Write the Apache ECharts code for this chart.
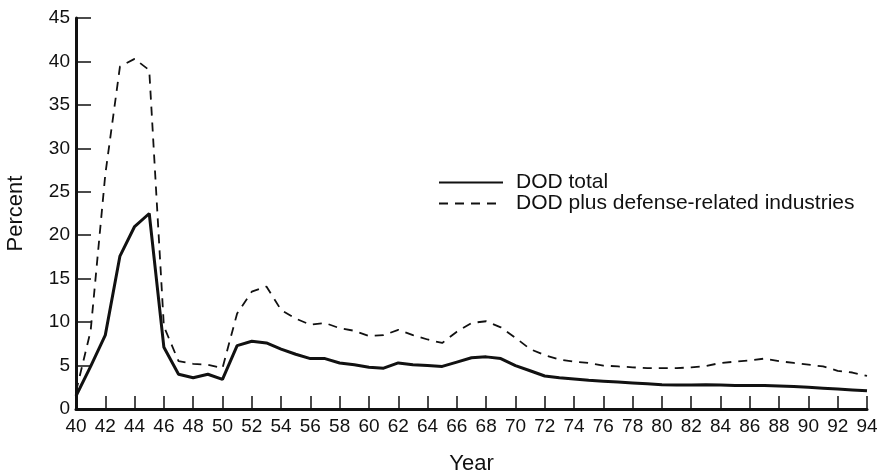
<!DOCTYPE html>
<html>
<head>
<meta charset="utf-8">
<script src="https://cdn.jsdelivr.net/npm/echarts@6/dist/echarts.min.js"></script>
<style>
  html, body { margin: 0; padding: 0; background: #fff; }
  #chart { width: 884px; height: 476px; }
</style>
</head>
<body>
<div id="chart"></div>
<script>
const years = [
  40, 41, 42, 43, 44, 45, 46, 47, 48, 49, 50, 51, 52, 53, 54, 55, 56, 57, 58, 59,
  60, 61, 62, 63, 64, 65, 66, 67, 68, 69, 70, 71, 72, 73, 74, 75, 76, 77, 78, 79,
  80, 81, 82, 83, 84, 85, 86, 87, 88, 89, 90, 91, 92, 93, 94
]

const dodTotal = [
  1.5, 4.9, 8.5, 17.6, 21.0, 22.5, 7.1, 4.0, 3.6, 4.0, 3.4, 7.3, 7.8, 7.6, 6.9, 6.3, 5.8, 5.8, 5.3, 5.1,
  4.8, 4.7, 5.3, 5.1, 5.0, 4.9, 5.4, 5.9, 6.0, 5.8, 5.0, 4.4, 3.8, 3.6, 3.45, 3.3, 3.2, 3.1, 3.0, 2.9,
  2.8, 2.75, 2.75, 2.8, 2.75, 2.7, 2.7, 2.7, 2.65, 2.6, 2.5, 2.4, 2.3, 2.2, 2.1
]

const dodPlus = [
  2.0, 9.0, 27.0, 39.4, 40.3, 39.0, 9.5, 5.5, 5.2, 5.1, 4.7, 11.0, 13.5, 14.1, 11.4, 10.4, 9.7, 9.9, 9.3, 9.0,
  8.4, 8.5, 9.1, 8.5, 8.0, 7.6, 8.9, 9.9, 10.1, 9.4, 8.2, 6.9, 6.2, 5.7, 5.45, 5.3, 5.0, 4.9, 4.8, 4.7,
  4.7, 4.7, 4.8, 4.95, 5.3, 5.45, 5.6, 5.8, 5.5, 5.3, 5.1, 4.9, 4.4, 4.2, 3.8
]

const seriesNames = ['DOD total', 'DOD plus defense-related industries']

const font = '"Liberation Sans", Arial, Helvetica, sans-serif'
const ink = '#111'

const chart = echarts.init(document.getElementById('chart'))

const toPairs = (vals) => years.map((y, i) => [y, vals[i]])

const option = {
  animation: false,
  backgroundColor: '#fff',
  textStyle: { fontFamily: font, color: ink },
  grid: {
    left: 76,
    right: 17,
    top: 18,
    bottom: 67,
    outerBoundsMode: 'none',
  },
  legend: {
    orient: 'vertical',
    left: 433,
    top: 167,
    itemWidth: 64,
    itemHeight: 14,
    itemGap: 0,
    itemStyle: { opacity: 0 },
    textStyle: { fontFamily: font, fontSize: 21, lineHeight: 19, color: ink, padding: [0, 0, 0, 8] },
    data: seriesNames,
  },
  xAxis: {
    type: 'value',
    min: 40,
    max: 94,
    interval: 2,
    name: 'Year',
    nameLocation: 'middle',
    nameGap: 44,
    nameTextStyle: { fontFamily: font, fontSize: 22, color: ink },
    axisLine: { lineStyle: { color: ink, width: 3 } },
    axisTick: { inside: true, length: 13, lineStyle: { color: ink, width: 1.5 } },
    axisLabel: { fontFamily: font, fontSize: 19, color: ink, margin: 8 },
    splitLine: { show: false },
  },
  yAxis: {
    type: 'value',
    min: 0,
    max: 45,
    interval: 5,
    name: 'Percent',
    nameLocation: 'middle',
    nameGap: 49,
    nameTextStyle: { fontFamily: font, fontSize: 22, color: ink },
    axisLine: { show: true, lineStyle: { color: ink, width: 3 } },
    axisTick: { show: true, inside: true, length: 15, lineStyle: { color: ink, width: 1.5 } },
    axisLabel: { fontFamily: font, fontSize: 19, color: ink, margin: 6 },
    splitLine: { show: false },
  },
  series: [
    {
      name: seriesNames[0],
      type: 'line',
      data: toPairs(dodTotal),
      symbol: 'none',
      lineStyle: { color: ink, width: 3 },
      itemStyle: { color: ink },
    },
    {
      name: seriesNames[1],
      type: 'line',
      data: toPairs(dodPlus),
      symbol: 'none',
      lineStyle: { color: ink, width: 1.8, type: [9, 7] },
      itemStyle: { color: ink },
    },
  ],
}

chart.setOption(option)
</script>
</body>
</html>
